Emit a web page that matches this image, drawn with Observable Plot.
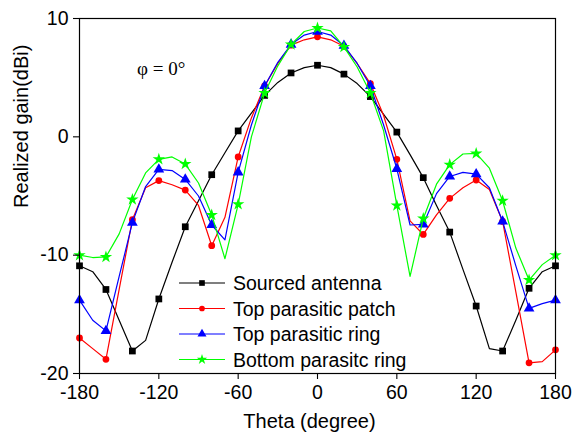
<!DOCTYPE html>
<html>
<head>
<meta charset="utf-8">
<script src="https://cdn.jsdelivr.net/npm/d3@7"></script>
<script src="https://cdn.jsdelivr.net/npm/@observablehq/plot@0.6"></script>
<style>
  html, body { margin: 0; padding: 0; background: #fff; }
  #wrap { position: relative; width: 572px; height: 434px; font-family: "Liberation Sans", Arial, sans-serif; }
  #wrap svg { display: block; }
  #legend { position: absolute; left: 0; top: 0; }
  #phi { position: absolute; left: 137px; top: 58px; font-family: "Liberation Serif", "Times New Roman", serif; font-size: 19px; color: #000; white-space: nowrap; }
</style>
</head>
<body>
<div id="wrap"></div>
<script>
// ---- data ----
const theta = [-180,-170,-160,-150,-140,-130,-120,-110,-100,-90,-80,-70,-60,-50,-40,-30,-20,-10,0,10,20,30,40,50,60,70,80,90,100,110,120,130,140,150,160,170,180];

const sourcedAntenna = [-10.9,-11.4,-12.9,-15.5,-18.1,-17.2,-13.7,-10.6,-7.6,-5.4,-3.2,-1.35,0.5,2.0,3.5,4.6,5.4,5.85,6.05,5.85,5.3,4.5,3.4,1.9,0.4,-1.5,-3.45,-5.8,-8.05,-11.2,-14.3,-17.9,-18.1,-15.5,-12.8,-11.4,-10.9];

const topParasiticPatch = [-17.0,-17.9,-18.8,-12.9,-7.0,-4.3,-3.7,-4.05,-4.5,-5.8,-9.2,-6.8,-1.7,1.6,4.3,6.2,7.75,8.2,8.45,8.2,7.65,6.2,4.5,1.8,-1.9,-7.1,-8.25,-6.6,-5.2,-4.3,-3.65,-4.45,-7.15,-13.1,-19.1,-19.0,-18.0];

const topParasiticRing = [-13.8,-15.5,-16.4,-11.8,-7.25,-4.2,-2.75,-2.85,-3.6,-5.0,-7.45,-8.7,-3.0,1.0,4.3,6.3,7.8,8.6,8.9,8.6,7.7,6.2,4.3,1.0,-2.7,-7.45,-7.4,-4.8,-3.35,-3.0,-3.15,-4.3,-7.15,-10.9,-14.5,-14.1,-13.8];

const bottomParasiticRing = [-10.0,-10.2,-10.15,-8.2,-5.3,-3.05,-1.9,-1.7,-2.3,-3.9,-6.6,-10.3,-5.7,0.0,3.7,6.0,7.8,8.9,9.2,8.95,7.6,5.9,3.7,0.5,-5.8,-11.8,-6.9,-4.0,-2.35,-1.45,-1.4,-2.65,-5.4,-9.4,-12.1,-10.8,-10.0];

const seriesNames = ["Sourced antenna", "Top parasitic patch", "Top parasitic ring", "Bottom parasitc ring"];
const seriesValues = [sourcedAntenna, topParasiticPatch, topParasiticRing, bottomParasiticRing];
const seriesColors = ["#000000", "#ff0000", "#0000ff", "#00ff00"];
const seriesSymbols = ["square", "circle", "triangle", "star"];
const seriesRadius = [3.8, 3.4, 4.0, 3.9];

const xTicks = [-180, -120, -60, 0, 60, 120, 180];
const yTicks = [-20, -10, 0, 10];

// tidy table
const rows = [];
seriesNames.forEach((name, s) => {
  theta.forEach((t, i) => rows.push({series: name, s, theta: t, gain: seriesValues[s][i]}));
});
const markerRows = rows.filter(d => d.theta % 20 === 0);

const marks = [];
seriesNames.forEach((name, s) => {
  const lr = rows.filter(d => d.s === s);
  const mr = markerRows.filter(d => d.s === s);
  marks.push(Plot.line(lr, {x: "theta", y: "gain", stroke: seriesColors[s], strokeWidth: 1.2}));
  marks.push(Plot.dot(mr, {x: "theta", y: "gain", symbol: () => seriesSymbols[s], r: seriesRadius[s], fill: seriesColors[s], stroke: "none"}));
});

const chart = Plot.plot({
  width: 572,
  height: 434,
  marginLeft: 79,
  marginRight: 17,
  marginTop: 18,
  marginBottom: 61,
  style: {fontFamily: "'Liberation Sans', Arial, sans-serif", fontSize: "19px", color: "#000", background: "#fff"},
  x: {domain: [-180, 180]},
  y: {domain: [-20, 10]},
  symbol: {type: "identity"},
  marks: [
    ...marks,
    Plot.frame({stroke: "#000", strokeWidth: 1.2}),
    Plot.axisX({ticks: xTicks, tickSize: 6, tickPadding: 6, tickFormat: d => String(d), fontSize: 19.5, label: null, strokeWidth: 1.1}),
    Plot.axisY({ticks: yTicks, tickSize: 6, tickPadding: 5, tickFormat: d => String(d), fontSize: 19.5, label: null, strokeWidth: 1.1}),
    Plot.text(["Theta (degree)"], {frameAnchor: "bottom", dx: -8, dy: 54, lineAnchor: "bottom", fontSize: 20, fill: "#000"}),
    Plot.text(["Realized gain(dBi)"], {frameAnchor: "left", dx: -52, dy: 12, rotate: -90, lineAnchor: "bottom", fontSize: 20, fill: "#000"})
  ]
});

const wrap = document.getElementById("wrap");
wrap.appendChild(chart);

// phi annotation
const phi = document.createElement("div");
phi.id = "phi";
phi.textContent = "\u03C6 = 0\u00B0";
wrap.appendChild(phi);

// legend (inside plot area, as in the reference)
const lg = d3.select(wrap).append("svg").attr("id", "legend").attr("width", 572).attr("height", 434)
  .style("pointer-events", "none");
const lgX0 = 179, lgX1 = 225, lgTextX = 233, lgY0 = 283, lgStep = 25.5;
seriesNames.forEach((name, s) => {
  const y = lgY0 + s * lgStep;
  const g = lg.append("g");
  g.append("line").attr("x1", lgX0).attr("x2", lgX1).attr("y1", y).attr("y2", y)
    .attr("stroke", seriesColors[s]).attr("stroke-width", 1.2);
  const symType = {square: d3.symbolSquare, circle: d3.symbolCircle, triangle: d3.symbolTriangle, star: d3.symbolStar}[seriesSymbols[s]];
  g.append("path").attr("d", d3.symbol(symType, Math.PI * seriesRadius[s] * seriesRadius[s] * 0.7)())
    .attr("transform", `translate(${(lgX0 + lgX1) / 2},${y})`).attr("fill", seriesColors[s]);
  g.append("text").attr("x", lgTextX).attr("y", y + 7).text(name)
    .attr("font-family", "'Liberation Sans', Arial, sans-serif").attr("font-size", 19.5).attr("fill", "#000");
});
</script>
</body>
</html>
